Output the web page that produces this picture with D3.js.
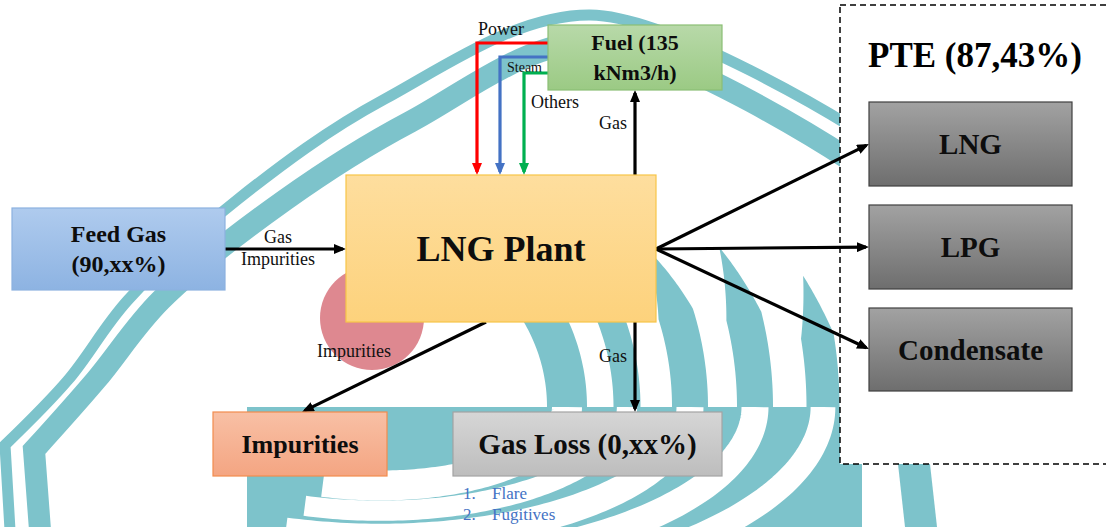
<!doctype html>
<meta charset="utf-8">
<style>
  body { margin: 0; background: #fff; }
  svg { display: block; }
</style>
<body>
<script src="https://d3js.org/d3.v7.min.js"></script>
<script>
var W = 1106, H = 527;
var FONT = "'Liberation Serif', 'Times New Roman', Times, 'DejaVu Serif', serif";

// ---- diagram content ----
var nodeIds = ['feed', 'plant', 'fuel', 'impur', 'loss', 'lng', 'lpg', 'cond'];
var nodeLabels = [['Feed Gas', '(90,xx%)'], ['LNG Plant'], ['Fuel (135', 'kNm3/h)'], ['Impurities'],
                  ['Gas Loss (0,xx%)'], ['LNG'], ['LPG'], ['Condensate']];
var flowFrom = ['feed', 'plant', 'plant', 'plant', 'plant', 'plant', 'plant'];
var flowTo = ['plant', 'fuel', 'impur', 'loss', 'lng', 'lpg', 'cond'];
var flowLabels = [['Gas', 'Impurities'], ['Gas'], ['Impurities'], ['Gas'], [], [], []];
var utilities = ['Power', 'Steam', 'Others'];
var lossItems = ['Flare', 'Fugitives'];
var pteTitle = 'PTE (87,43%)';

// ---- layout ----
var box = {
  feed:  {x: 12,  y: 208, w: 213, h: 82},
  plant: {x: 346, y: 175, w: 310, h: 147},
  fuel:  {x: 548, y: 25,  w: 174, h: 65},
  impur: {x: 213, y: 412, w: 174, h: 64},
  loss:  {x: 453, y: 412, w: 269, h: 64},
  lng:   {x: 869, y: 102, w: 203, h: 84},
  lpg:   {x: 869, y: 205, w: 203, h: 84},
  cond:  {x: 869, y: 308, w: 203, h: 83}
};
var look = {
  feed:  {top: '#afcbee', bot: '#8db3e2', stroke: '#8cb1df', size: 24, lh: 30},
  plant: {top: '#fede9e', bot: '#fdd27c', stroke: '#f7c548', size: 36, lh: 0},
  fuel:  {top: '#b8d9a9', bot: '#9bca84', stroke: '#8bbf75', size: 22, lh: 30},
  impur: {top: '#f8c0a5', bot: '#f4a582', stroke: '#f28c4e', size: 26, lh: 0},
  loss:  {top: '#d6d6d6', bot: '#bdbdbd', stroke: '#a3a3a3', size: 29, lh: 0},
  lng:   {top: '#a2a2a2', bot: '#6e6e6e', stroke: '#404040', size: 29, lh: 0},
  lpg:   {top: '#a2a2a2', bot: '#6e6e6e', stroke: '#404040', size: 29, lh: 0},
  cond:  {top: '#a2a2a2', bot: '#6e6e6e', stroke: '#404040', size: 29, lh: 0}
};
var flowPts = {
  'feed-plant': [[225, 249], [346, 249]],
  'plant-fuel': [[635, 175], [635, 90]],
  'plant-impur': [[486, 322], [302, 412]],
  'plant-loss': [[635, 322], [635, 412]],
  'plant-lng': [[656, 249], [869, 144]],
  'plant-lpg': [[656, 249], [869, 247]],
  'plant-cond': [[656, 249], [869, 349]]
};
var flowLabelPos = {
  'feed-plant': {x: 278, y: [243, 265], anchor: 'middle'},
  'plant-fuel': {x: 627, y: [129], anchor: 'end'},
  'plant-impur': {x: 354, y: [357], anchor: 'middle'},
  'plant-loss': {x: 627, y: [362], anchor: 'end'}
};
var utilColor = ['#ff0000', '#4472c4', '#00b050'];
var utilY = [43, 57, 73], utilX = [477, 500, 524];
var utilText = [{x: 501, y: 35, a: 'middle', s: 18}, {x: 507, y: 72, a: 'start', s: 14}, {x: 531, y: 108, a: 'start', s: 18}];

var svg = d3.select('body').append('svg').attr('width', W).attr('height', H)
  .attr('font-family', FONT).style('font-family', FONT);
var defs = svg.append('defs');

// ---- watermark ----
var teal = '#7dc3cb';
var cx = 380, cy = 407;
var bandR = [187, 247, 310, 375, 443];
var bandW = [40, 27, 36, 36, 33];
var bandStart = [0.45, 0.45, 1.03, 1.13, 1.27];

defs.append('clipPath').attr('id', 'clipUp').append('rect').attr('x', 0).attr('y', 0).attr('width', W).attr('height', 407);
defs.append('clipPath').attr('id', 'clipLow').append('rect').attr('x', 247).attr('y', 407).attr('width', 615).attr('height', 120);

var wm = svg.append('g');

wm.append('rect').attr('x', 247).attr('y', 407).attr('width', 615).attr('height', 120).attr('fill', teal);
wm.append('path').attr('d', 'M898,464L930,464L937,527L905,527Z').attr('fill', teal);

var low = wm.append('g').attr('clip-path', 'url(#clipLow)');
bandR.forEach(function(r, i){
  var pts = d3.range(0, 1.9, 0.02).map(function(t){
    return [cx + r * Math.cos(t), cy + 0.42 * r * Math.sin(t)];
  });
  low.append('path').attr('d', d3.line()(pts)).attr('fill', 'none')
    .attr('stroke', '#fff').attr('stroke-width', bandW[i] * 0.75);
});

var up = wm.append('g').attr('clip-path', 'url(#clipUp)');
bandR.forEach(function(r, i){
  var s = bandStart[i], e = Math.PI / 2 + 0.05, n = 60;
  var outer = [], inner = [];
  for (var k = 0; k <= n; k++) {
    var t = k / n, a = s + (e - s) * t;
    var half = bandW[i] / 2 * Math.min(1, t * 2.5);
    outer.push([cx + (r + half) * Math.sin(a), cy - (r + half) * Math.cos(a)]);
    inner.push([cx + (r - half) * Math.sin(a), cy - (r - half) * Math.cos(a)]);
  }
  up.append('path').attr('d', d3.line()(outer.concat(inner.reverse())) + 'Z').attr('fill', teal);
});

wm.append('circle').attr('cx', 372).attr('cy', 318).attr('r', 52).attr('fill', '#de8890');

// outer double band: straight foot, then a smooth arch
var bandLine = d3.line().curve(d3.curveCatmullRom.alpha(0.5));
var outerFoot = [[10, 530], [5, 445]], innerFoot = [[40, 530], [34, 450]];
var outerArch = [[5, 445], [68, 380], [128, 300], [237, 200], [383, 100], [590, 15], [850, 126]];
var innerArch = [[34, 450], [96, 380], [161, 300], [285, 200], [410, 122], [592, 42], [850, 160]];
[[outerFoot, outerArch, 11], [innerFoot, innerArch, 22]].forEach(function(b){
  wm.append('path').attr('d', d3.line()(b[0]) + bandLine(b[1]).replace(/^M[^LC]*/, function(m){ return 'L' + m.slice(1); }))
    .attr('fill', 'none').attr('stroke', teal).attr('stroke-width', b[2]).attr('stroke-linejoin', 'miter');
});

// ---- PTE dashed frame ----
svg.append('rect').attr('x', 840).attr('y', 5).attr('width', 300).attr('height', 459)
  .attr('fill', '#fff').attr('stroke', '#000').attr('stroke-width', 1.5).attr('stroke-dasharray', '6,4');
svg.append('text').attr('x', 975).attr('y', 67).attr('text-anchor', 'middle')
  .attr('font-size', 35).attr('font-weight', 'bold').text(pteTitle);

// ---- arrow markers ----
function marker(id, color){
  defs.append('marker').attr('id', id).attr('viewBox', '0 0 12 10')
    .attr('refX', 9).attr('refY', 5).attr('markerWidth', 12).attr('markerHeight', 10)
    .attr('markerUnits', 'userSpaceOnUse').attr('orient', 'auto')
    .append('path').attr('d', 'M0,0L12,5L0,10Z').attr('fill', color);
}
marker('arBlack', '#000');
utilColor.forEach(function(c, i){ marker('arU' + i, c); });

function shorten(p, q, d){
  var dx = q[0] - p[0], dy = q[1] - p[1], L = Math.sqrt(dx * dx + dy * dy);
  return [q[0] - dx / L * d, q[1] - dy / L * d];
}

// utility feeds (Power / Steam / Others)
var fuelX = box.fuel.x, plantTop = box.plant.y;
utilities.forEach(function(u, i){
  var pts = [[fuelX, utilY[i]], [utilX[i], utilY[i]], [utilX[i], plantTop - 3]];
  svg.append('path').attr('d', d3.line()(pts)).attr('fill', 'none')
    .attr('stroke', utilColor[i]).attr('stroke-width', 3.2).attr('marker-end', 'url(#arU' + i + ')');
  svg.append('text').attr('x', utilText[i].x).attr('y', utilText[i].y)
    .attr('text-anchor', utilText[i].a).attr('font-size', utilText[i].s).attr('fill', '#111').text(u);
});

// flows
flowFrom.forEach(function(f, i){
  var key = f + '-' + flowTo[i], pts = flowPts[key];
  var end = shorten(pts[0], pts[1], 3);
  svg.append('line').attr('x1', pts[0][0]).attr('y1', pts[0][1]).attr('x2', end[0]).attr('y2', end[1])
    .attr('stroke', '#000').attr('stroke-width', 3.2).attr('marker-end', 'url(#arBlack)');
  var lp = flowLabelPos[key];
  if (lp) flowLabels[i].forEach(function(t, j){
    svg.append('text').attr('x', lp.x).attr('y', lp.y[j]).attr('text-anchor', lp.anchor)
      .attr('font-size', 18).attr('fill', '#111').text(t);
  });
});

// ---- boxes ----
nodeIds.forEach(function(id, i){
  var b = box[id], s = look[id];
  var g = defs.append('linearGradient').attr('id', 'gr-' + id).attr('x1', 0).attr('y1', 0).attr('x2', 0).attr('y2', 1);
  g.append('stop').attr('offset', '0%').attr('stop-color', s.top);
  g.append('stop').attr('offset', '100%').attr('stop-color', s.bot);
  svg.append('rect').attr('x', b.x).attr('y', b.y).attr('width', b.w).attr('height', b.h)
    .attr('fill', 'url(#gr-' + id + ')').attr('stroke', s.stroke).attr('stroke-width', 1.2);
  var lines = nodeLabels[i], mid = b.y + b.h / 2 + s.size * 0.35;
  lines.forEach(function(t, j){
    svg.append('text').attr('x', b.x + b.w / 2).attr('y', mid + (j - (lines.length - 1) / 2) * s.lh)
      .attr('text-anchor', 'middle').attr('font-size', s.size).attr('font-weight', 'bold')
      .attr('fill', '#0d0d0d').text(t);
  });
});

// loss breakdown list
lossItems.forEach(function(t, i){
  var y = 499 + i * 21;
  svg.append('text').attr('x', 463).attr('y', y).attr('font-size', 17).attr('fill', '#4472c4').text((i + 1) + '.');
  svg.append('text').attr('x', 492).attr('y', y).attr('font-size', 17).attr('fill', '#4472c4').text(t);
});
</script>
</body>
